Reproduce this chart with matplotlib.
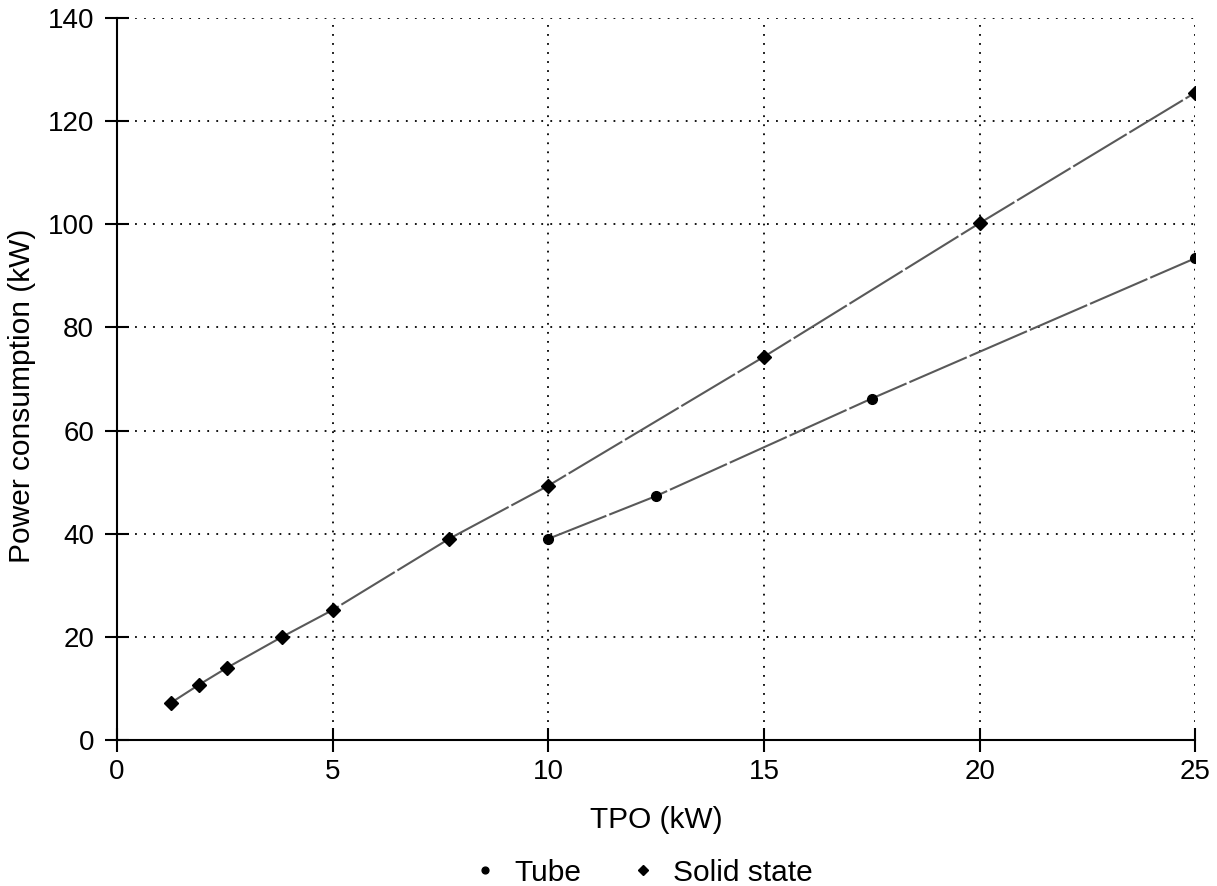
from matplotlib import pyplot as plt

plt.rcParams['font.family'] = ['Liberation Sans', 'DejaVu Sans']

# Tube series
tube_tpo = [10, 12.5, 17.5, 25]
tube_power = [39, 47.3, 66.2, 93.4]

# Solid state series
ss_tpo = [1.25, 1.9, 2.55, 3.83, 5, 7.7, 10, 15, 20, 25]
ss_power = [7.2, 10.7, 14, 20, 25.2, 39, 49.3, 74.3, 100.2, 125.5]

xticks = [0, 5, 10, 15, 20, 25]
yticks = [0, 20, 40, 60, 80, 100, 120, 140]

fig = plt.figure(figsize=(12.17, 8.86), dpi=100)
ax = fig.add_axes([0.0961, 0.1648, 0.886, 0.815])

line_style = (0, (30, 1.5))
ax.plot(tube_tpo, tube_power, color='0.35', lw=1.5, linestyle=line_style, zorder=2)
ax.plot(ss_tpo, ss_power, color='0.35', lw=1.5, linestyle=line_style, zorder=2)
ax.plot(tube_tpo, tube_power, 'o', color='black', markersize=7, zorder=3, label='Tube')
ax.plot(ss_tpo, ss_power, 'D', color='black', markersize=7.5, zorder=3, label='Solid state')

ax.set_xlim(0, 25)
ax.set_ylim(0, 140)
ax.set_xticks(xticks)
ax.set_yticks(yticks)
ax.grid(True, color='black', linestyle=(0, (1, 4)), linewidth=1.3)
ax.set_axisbelow(True)

for side in ['top', 'right']:
    ax.spines[side].set_visible(False)
for side in ['left', 'bottom']:
    ax.spines[side].set_linewidth(1.5)

ax.tick_params(direction='inout', length=17, width=1.5, labelsize=20)
ax.tick_params(axis='x', pad=5)
ax.tick_params(axis='y', pad=8)
ax.set_xlabel('TPO (kW)', fontsize=21.5, labelpad=15)
ax.set_ylabel('Power consumption (kW)', fontsize=21.5, labelpad=8)
ax.yaxis.label.set_y(0.476)

fig.legend(loc='lower center', bbox_to_anchor=(0.5296, -0.031), ncol=2, frameon=False,
           fontsize=21.5, handlelength=0.6, handletextpad=0.7, columnspacing=1.76,
           markerscale=0.7)

fig.savefig('out.png', dpi=100)
